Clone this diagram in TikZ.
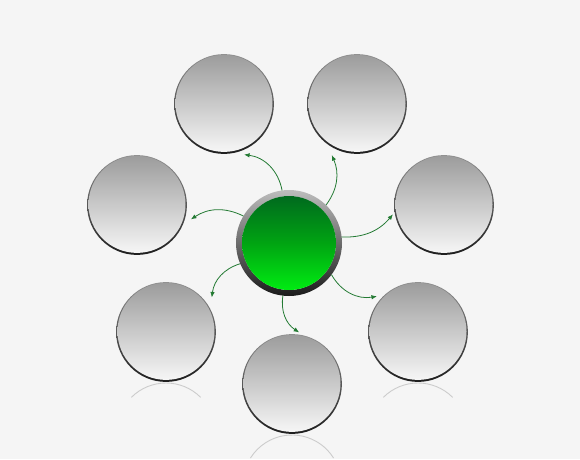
\documentclass[tikz,border=0pt]{standalone}
\usetikzlibrary{arrows.meta}
\definecolor{bg}{HTML}{F5F5F5}
\definecolor{arrowgreen}{HTML}{237A33}
\definecolor{gtop}{HTML}{006A1E}
\definecolor{gmid}{HTML}{00A412}
\definecolor{gbot}{HTML}{00EC12}
\definecolor{ringtop}{HTML}{BDBDBD}
\definecolor{ringbot}{HTML}{1A1A1A}
\definecolor{disctop}{HTML}{9C9C9C}
\definecolor{discbot}{HTML}{F6F6F6}
\definecolor{rimtop}{HTML}{909090}
\definecolor{rimbot}{HTML}{1E1E1E}
\tikzset{
  disc/.style={circle, minimum size=97pt, inner sep=0pt, draw=none, top color=disctop, bottom color=discbot},
  hub/.style={circle, minimum size=94pt, inner sep=0pt, draw=none, top color=gtop, bottom color=gbot, middle color=gmid},
  rim/.style={top color=rimtop, bottom color=rimbot},
  hubrim/.style={top color=ringtop, bottom color=ringbot, even odd rule},
  arr/.style={draw=arrowgreen, line width=0.8pt, -{Latex[length=5.5pt,width=4.5pt]}},
  mirror/.style={draw=gray!40, line width=0.9pt}
}
\begin{document}
\begin{tikzpicture}[x=1pt,y=1pt]
\useasboundingbox (0,0) rectangle (580,459);
\fill[bg] (0,0) rectangle (580,459);
% reflections
\begin{scope}
\clip (0,0) rectangle (580,459);
\draw[mirror] ([shift={(45:49)}]166,27) arc[start angle=45,end angle=135,radius=49];
\draw[mirror] ([shift={(45:49)}]418,27) arc[start angle=45,end angle=135,radius=49];
\draw[mirror] ([shift={(32:49)}]292,-25) arc[start angle=32,end angle=148,radius=49];
\end{scope}
% outer discs
\foreach \n/\x/\y in {TL/224/355, TR/357/355, L/137/254, R/444/254, BL/166/127, B/292/75, BR/418/127}{
  \shade[rim] (\x,\y) circle (49.9);
  \node[disc] (\n) at (\x,\y+0.6) {};
}
% hub
\shade[hubrim] (289,216) circle (53) (289,216) circle (47);
\node[hub] (C) at (289,216) {};
% end points
\coordinate (eTL) at ([shift={(-68.6:55)}]TL.center);
\coordinate (eTR) at ([shift={(244:57.5)}]TR.center);
\coordinate (eL)  at ([shift={(-15.5:56)}]L.center);
\coordinate (eR)  at ([shift={(191:52)}]R.center);
\coordinate (eBL) at ([shift={(36.5:57)}]BL.center);
\coordinate (eB)  at ([shift={(82:51.5)}]B.center);
\coordinate (eBR) at ([shift={(139.5:54)}]BR.center);
% connectors
\draw[arr] ([shift={(97.5:53)}]C.center) to[bend right=36] (eTL);
\draw[arr] ([shift={(45.7:53)}]C.center) to[bend right=30] (eTR);
\draw[arr] ([shift={(149.4:53)}]C.center) to[bend right=30] (eL);
\draw[arr] ([shift={(6.5:53)}]C.center) to[bend right=26] (eR);
\draw[arr] ([shift={(203:53)}]C.center) to[bend right=33] (eBL);
\draw[arr] ([shift={(263.4:53)}]C.center) to[bend right=33] (eB);
\draw[arr] ([shift={(-36.7:53)}]C.center) to[bend right=35] (eBR);
\end{tikzpicture}
\end{document}
